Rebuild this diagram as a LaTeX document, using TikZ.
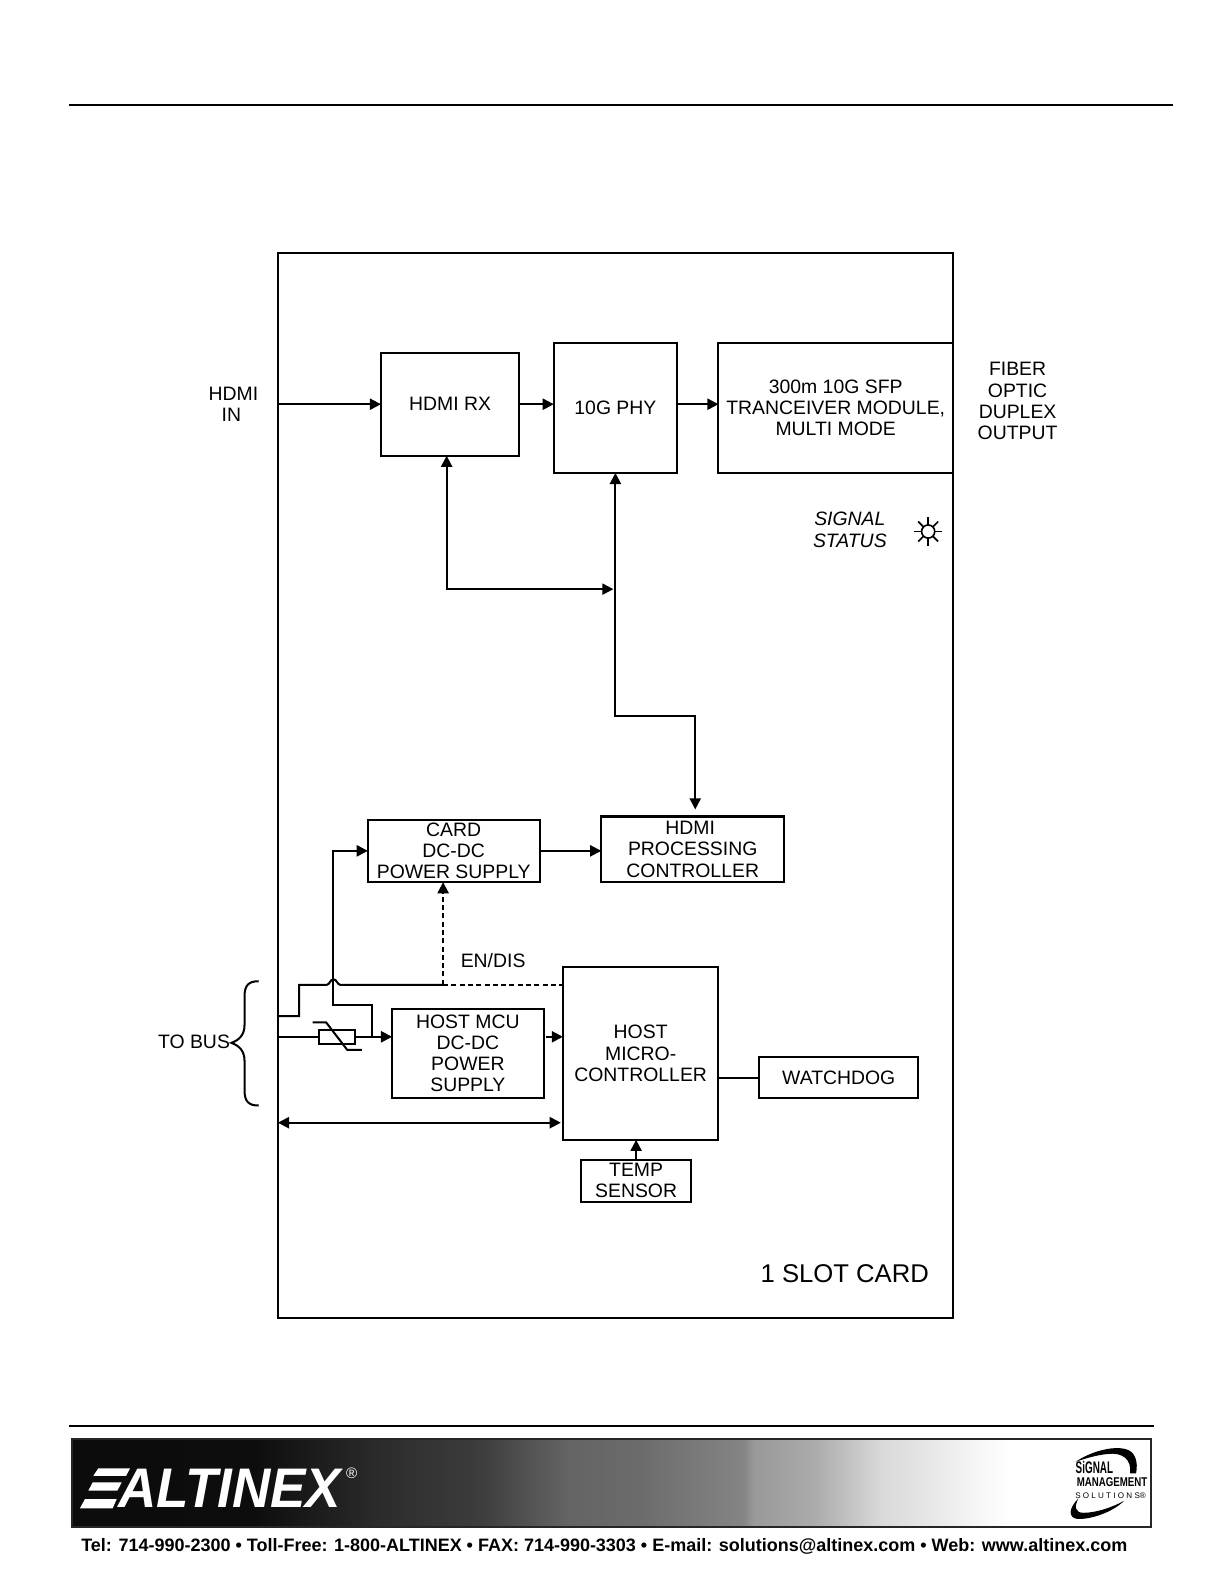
\documentclass[tikz,border=0pt]{standalone}
\usepackage{fontspec}
\setmainfont{Liberation Sans}
\usetikzlibrary{arrows.meta}
\pgfdeclarehorizontalshading{bannerfade}{100bp}{color(0bp)=(black!96); color(33.4bp)=(black!95); color(39.3bp)=(black!83); color(44bp)=(black!76); color(47.9bp)=(black!61); color(51.2bp)=(black!58); color(56.1bp)=(black!48); color(56.6bp)=(black!40); color(59.4bp)=(black!33); color(62.5bp)=(black!15); color(67.2bp)=(black!3); color(68.5bp)=(white); color(100bp)=(white)}
\tikzset{
    blockbox/.style={shape=rectangle,draw=black,line width=1pt,inner sep=0pt,outer sep=0pt,align=center,font=\fontsize{9.6}{10.5}\selectfont},
    sidetext/.style={inner sep=0pt,align=center,font=\fontsize{9.6}{10.5}\selectfont},
    wire/.style={line width=1pt},
    sig/.style={line width=1pt,-{Triangle[length=5.5pt,width=5.5pt]}},
    bisig/.style={line width=1pt,{Triangle[length=5.5pt,width=5.5pt]}-{Triangle[length=5.5pt,width=5.5pt]}},
    enable/.style={line width=1pt,dash pattern=on 2.5pt off 1.6pt}
}
\begin{document}
\begin{tikzpicture}[x=0.5pt,y=-0.5pt]
    \useasboundingbox (0,0) rectangle (1212.3,1568.5);

    % page rules
    \coordinate (ruleAl) at (68,104);
    \coordinate (ruleAr) at (1161,104);
    \coordinate (ruleBl) at (68,1411);
    \coordinate (ruleBr) at (1142,1411);
    \draw[wire] (ruleAl) -- (ruleAr);
    \draw[wire] (ruleBl) -- (ruleBr);

    % card outline
    \node[blockbox,minimum width=334pt,minimum height=527pt] (card) at (609,777) {};

    % blocks
    \node[blockbox,minimum width=68.5pt,minimum height=51pt] (hdmirx) at (445.5,400) {HDMI RX};
    \node[blockbox,minimum width=61pt,minimum height=64.5pt] (phy) at (609,403.5) {10G PHY};
    \node[blockbox,minimum width=116pt,minimum height=64.5pt] (sfp) at (827,403.5) {300m 10G SFP\\TRANCEIVER MODULE,\\MULTI MODE};
    \node[blockbox,minimum width=85pt,minimum height=31pt] (cardpsu) at (449,842) {CARD\\DC-DC\\POWER SUPPLY};
    \node[blockbox,minimum width=90.5pt,minimum height=32.5pt] (proc) at (685.5,840.5) {HDMI\hspace*{2.5pt}\\PROCESSING\hspace*{2.5pt}\\CONTROLLER};
    \node[blockbox,minimum width=75pt,minimum height=44.5pt] (mcupsu) at (463,1042.5) {HOST MCU\\DC-DC\\POWER\\SUPPLY};
    \node[blockbox,minimum width=77pt,minimum height=85.5pt] (host) at (634,1042.5) {HOST\\MICRO-\\CONTROLLER};
    \node[blockbox,minimum width=78.5pt,minimum height=20.5pt] (watchdog) at (830,1066.5) {WATCHDOG};
    \node[blockbox,minimum width=54.5pt,minimum height=20.5pt] (temp) at (629.5,1168.5) {TEMP\\SENSOR};

    % labels
    \node[sidetext] (hdmiin) at (231,400) {HDMI\\IN\hspace*{2pt}};
    \node[sidetext] (fiber) at (1007,397) {FIBER\\OPTIC\\DUPLEX\\OUTPUT};
    \node[sidetext,font=\fontsize{9.6}{11}\itshape] (status) at (841,524) {SIGNAL\\STATUS};
    \node[sidetext] (endis) at (488,951) {EN/DIS};
    \node[sidetext] (tobus) at (192,1031) {TO BUS};
    \node[sidetext,font=\fontsize{12.7}{15}\selectfont] (slot) at (836,1260) {1 SLOT CARD};

    % status lamp
    \node[shape=circle,draw=black,line width=.8pt,minimum size=6.5pt,inner sep=0pt,outer sep=0pt] (lamp) at (918.5,526) {};
    \foreach \ang in {0,45,...,315}
        \draw[line width=.8pt] (lamp.center) ++(\ang:6.5) -- ++(\ang:7.5);

    % free ends
    \coordinate (busA) at (card.west |- 0,1005.5);
    \coordinate (busB) at (card.west |- 0,1026);
    \coordinate (busC) at (card.west |- 0,1111);
    \coordinate (enjoin) at (438.5,974.5);
    \coordinate (tapjoin) at (367.8,1026);

    % edges
    \draw[sig] (card.west |- hdmirx.west) -- (hdmirx.west);
    \draw[sig] (hdmirx.east) -- (hdmirx.east -| phy.west);
    \draw[sig] (phy.east |- hdmirx.east) -- (sfp.west |- hdmirx.east);
    \draw[bisig] (hdmirx.south -| 442,0) -- (442,583) -- (607,583);
    \draw[bisig,shorten >=3.5pt] (phy.south) -- (609,709) -- (688,709) -- (proc.north -| 688,0);
    \draw[sig] (cardpsu.east) -- (cardpsu.east -| proc.west);
    \draw[sig] (tapjoin) -- (367.8,994.5) -- (330,994.5) -- (330,842) -- (cardpsu.west);
    \draw[wire] (busA) -- (296,1005.5) -- (296,974.5) -- (323.5,974.5) .. controls (326,974.5) and (327,969) .. (330,969) .. controls (333,969) and (334,974.5) .. (336.5,974.5) -- (enjoin);
    \draw[enable] (enjoin) -- (host.west |- enjoin);
    \draw[enable,-{Triangle[length=5.5pt,width=5.5pt]}] (enjoin) -- (enjoin |- cardpsu.south);
    \draw[sig] (busB) -- (busB -| mcupsu.west);
    \draw[sig] (540,1026) -- (host.west |- 0,1026);
    \draw[bisig] (busC) -- (555,1111);
    \draw[wire] (host.east |- watchdog.west) -- (watchdog.west);
    \draw[sig] (temp.north) -- (temp.north |- host.south);

    % thermistor
    \node[shape=rectangle,draw=black,line width=1pt,fill=white,minimum width=17.5pt,minimum height=7.2pt,inner sep=0pt,outer sep=0pt] (ptc) at (333.5,1026) {};
    \draw[line width=1pt] (309.4,1011.7) -- (322.7,1011.7) -- (343.7,1039) -- (358,1039);

    % bus brace
    \draw[line width=1pt] (256,971) .. controls (246,971) and (242,975) .. (242,986) -- (242,1014) .. controls (242,1024) and (237,1029) .. (229,1032) .. controls (237,1035) and (242,1040) .. (242,1050) -- (242,1079) .. controls (242,1090) and (246,1094) .. (256,1094);

    % banner
    \shade[shading=bannerfade] (71,1424) rectangle (1139,1511);
    \draw[line width=.8pt,black!85] (71,1424) rectangle (1139,1511);
    \fill[white] (97.3,1453) -- (128.7,1453) -- (124.7,1460.6) -- (92.3,1460.6) -- cycle;
    \fill[white] (91.7,1467) -- (120.4,1467) -- (116.1,1475.2) -- (87.4,1475.2) -- cycle;
    \fill[white] (84.1,1483.4) -- (115.5,1483.4) -- (111.5,1492.6) -- (79.1,1492.6) -- cycle;
    \node[inner sep=0pt,text=white,xscale=.95,font=\fontsize{27.6}{30}\bfseries\itshape] (brand) at (227.5,1472.5) {ALTINEX};
    \node[inner sep=0pt,text=white,font=\fontsize{7.5}{8}\selectfont] (regmark) at (348,1458) {®};
    \node[inner sep=0pt,xscale=.59,font=\fontsize{8.3}{9}\bfseries] (smsA) at (1083,1452) {SiGNAL};
    \node[inner sep=0pt,xscale=.76,font=\fontsize{6.3}{7}\bfseries] (smsB) at (1100.5,1466.5) {MANAGEMENT};
    \node[inner sep=0pt,font=\fontsize{4}{5}\selectfont] (smsC) at (1099,1480) {S O L U T I O N S®};
    \begin{scope}[shift={(890.6,1395.4)},x=.165pt,y=-.165pt]
        \fill[black] (527,155) .. controls (570,125) and (640,105) .. (680,118) .. controls (705,125) and (715,155) .. (708,190) -- (690,190) .. controls (695,150) and (670,125) .. (620,132) .. controls (590,135) and (555,145) .. (527,155) -- cycle;
        \fill[black] (672,272) .. controls (640,305) and (570,330) .. (530,326) .. controls (505,322) and (505,295) .. (535,265) .. controls (522,290) and (525,308) .. (550,308) .. controls (590,308) and (640,290) .. (672,272) -- cycle;
    \end{scope}

    % contact line
    \node[inner sep=0pt,font=\fontsize{8.9}{10}\bfseries] (contact) at (598,1530.5) {Tel: 714-990-2300 • Toll-Free: 1-800-ALTINEX • FAX: 714-990-3303 • E-mail: solutions@altinex.com • Web: www.altinex.com};
\end{tikzpicture}
\end{document}
